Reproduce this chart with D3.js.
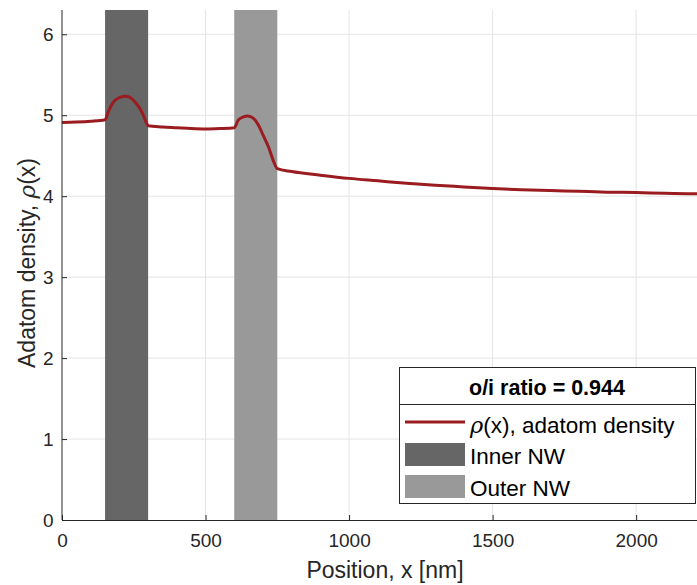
<!DOCTYPE html>
<html>
<head>
<meta charset="utf-8">
<script src="https://cdn.jsdelivr.net/npm/d3@7"></script>
<style>
  body { margin: 0; background: #fff; }
  text { font-family: "Liberation Sans", Arial, sans-serif; fill: #262626; }
</style>
</head>
<body>
<svg id="chart" width="697" height="585"></svg>
<script>
"use strict";

// nanowire bands [start, end] in nm
var innerNW = [150, 300],
    outerNW = [600, 750];

// adatom density profile
var positions = [0, 50, 100, 150, 161, 173, 185, 202, 220, 237, 254, 272, 283, 295, 300,
                 350, 400, 450, 500, 550, 600, 614, 632, 647, 667, 684, 701, 719, 736, 750,
                 800, 900, 1000, 1100, 1200, 1300, 1400, 1500, 1600, 1700, 1800, 1900, 2000, 2100, 2200, 2215];
var density = [4.91, 4.915, 4.925, 4.945, 5.04, 5.13, 5.185, 5.22, 5.235, 5.22, 5.165, 5.08, 5.0, 4.9, 4.87,
               4.855, 4.845, 4.835, 4.83, 4.835, 4.845, 4.94, 4.98, 4.99, 4.96, 4.88, 4.75, 4.61, 4.44, 4.34,
               4.305, 4.26, 4.22, 4.19, 4.16, 4.135, 4.115, 4.095, 4.08, 4.07, 4.06, 4.05, 4.045, 4.035, 4.03, 4.03];

var xTicks = [0, 500, 1000, 1500, 2000],
    yTicks = [0, 1, 2, 3, 4, 5, 6];

var ratioTitle = "o/i ratio = 0.944";

(function() {
  var svg = d3.select("#chart");
  var pLeft = 62, pTop = 10, pRight = 697, pBottom = 520;

  var x = d3.scaleLinear().domain([0, 2212]).range([pLeft, pRight]);
  var y = d3.scaleLinear().domain([0, 6.3]).range([pBottom, pTop]);

  // grid
  svg.append("g").selectAll("line").data(xTicks.slice(1)).enter().append("line")
    .attr("x1", function(d) { return x(d); }).attr("x2", function(d) { return x(d); })
    .attr("y1", pTop).attr("y2", pBottom)
    .attr("stroke", "#e4e4e4").attr("stroke-width", 1);
  svg.append("g").selectAll("line").data(yTicks.slice(1)).enter().append("line")
    .attr("x1", pLeft).attr("x2", pRight)
    .attr("y1", function(d) { return y(d); }).attr("y2", function(d) { return y(d); })
    .attr("stroke", "#e4e4e4").attr("stroke-width", 1);

  // bands
  svg.append("rect")
    .attr("x", x(innerNW[0])).attr("width", x(innerNW[1]) - x(innerNW[0]))
    .attr("y", pTop).attr("height", pBottom - pTop)
    .attr("fill", "#666666");
  svg.append("rect")
    .attr("x", x(outerNW[0])).attr("width", x(outerNW[1]) - x(outerNW[0]))
    .attr("y", pTop).attr("height", pBottom - pTop)
    .attr("fill", "#999999");

  // curve
  var pts = positions.map(function(p, i) { return [p, density[i]]; });
  var line = d3.line()
    .x(function(d) { return x(d[0]); })
    .y(function(d) { return y(d[1]); })
    .curve(d3.curveMonotoneX);
  svg.append("path").datum(pts)
    .attr("d", line)
    .attr("fill", "none")
    .attr("stroke", "#9b1c20")
    .attr("stroke-width", 3);

  // axes
  var xAxis = svg.append("g").attr("transform", "translate(0," + pBottom + ")")
    .call(d3.axisBottom(x).tickValues(xTicks).tickFormat(d3.format("d"))
      .tickSizeInner(-5).tickSizeOuter(0).tickPadding(14));
  var yAxis = svg.append("g").attr("transform", "translate(" + pLeft + ",0)")
    .call(d3.axisLeft(y).tickValues(yTicks).tickFormat(d3.format("d"))
      .tickSizeInner(-5).tickSizeOuter(0).tickPadding(8.5));
  [xAxis, yAxis].forEach(function(a) {
    a.attr("font-size", null).attr("font-family", null);
    a.select(".domain").attr("stroke", "#262626");
    a.selectAll(".tick line").attr("stroke", "#262626");
    a.selectAll(".tick text").style("font-size", "19px").style("fill", "#262626");
  });
  yAxis.select(".domain").attr("d", "M0," + pBottom + "V" + pTop);

  // axis labels
  svg.append("text")
    .attr("x", 385).attr("y", 578)
    .attr("text-anchor", "middle").style("font-size", "23px")
    .text("Position, x [nm]");
  var yl = svg.append("text")
    .attr("transform", "translate(35,263) rotate(-90)")
    .attr("text-anchor", "middle").style("font-size", "23px");
  yl.append("tspan").text("Adatom density, ");
  yl.append("tspan").style("font-style", "italic").style("font-family", "DejaVu Serif, serif").text("ρ");
  yl.append("tspan").text("(x)");

  // legend
  var lg = svg.append("g");
  lg.append("rect").attr("x", 399.5).attr("y", 367.5).attr("width", 296).attr("height", 136)
    .attr("fill", "#fff").attr("stroke", "#262626").attr("stroke-width", 1);
  lg.append("line").attr("x1", 399.5).attr("x2", 695.5).attr("y1", 404.5).attr("y2", 404.5)
    .attr("stroke", "#262626");
  lg.append("text").attr("x", 547).attr("y", 395).attr("text-anchor", "middle")
    .style("font-size", "21.5px").style("font-weight", "bold").style("fill", "#000").text(ratioTitle);

  lg.append("line").attr("x1", 405).attr("x2", 465).attr("y1", 422).attr("y2", 422)
    .attr("stroke", "#9b1c20").attr("stroke-width", 3);
  var t1 = lg.append("text").attr("x", 470).attr("y", 432.5).style("font-size", "22.5px").style("fill", "#000");
  t1.append("tspan").style("font-style", "italic").style("font-family", "DejaVu Serif, serif").text("ρ");
  t1.append("tspan").text("(x), adatom density");

  lg.append("rect").attr("x", 405).attr("y", 443).attr("width", 60).attr("height", 23).attr("fill", "#666666");
  lg.append("text").attr("x", 470).attr("y", 464).style("font-size", "22.5px").style("fill", "#000").text("Inner NW");
  lg.append("rect").attr("x", 405).attr("y", 475).attr("width", 60).attr("height", 23).attr("fill", "#999999");
  lg.append("text").attr("x", 470).attr("y", 495.5).style("font-size", "22.5px").style("fill", "#000").text("Outer NW");
})();
</script>
</body>
</html>
